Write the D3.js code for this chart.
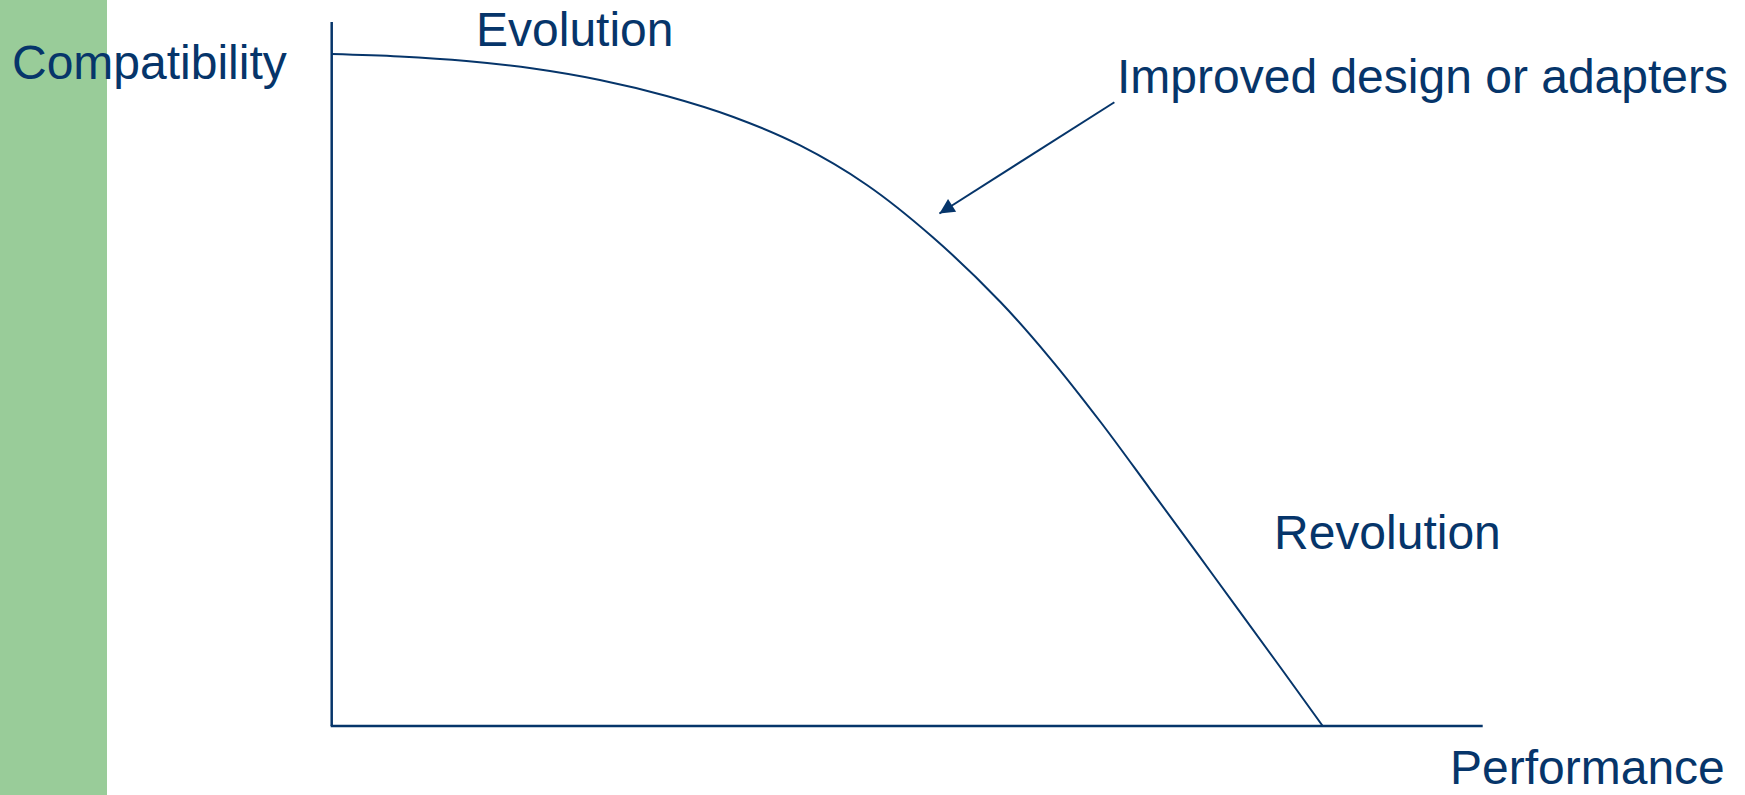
<!DOCTYPE html>
<html>
<head>
<meta charset="utf-8">
<script src="https://cdn.jsdelivr.net/npm/d3@7"></script>
<style>
  html, body { margin: 0; padding: 0; background: #ffffff; }
  svg { display: block; }
  text { font-family: "Liberation Sans", Arial, sans-serif; }
</style>
</head>
<body>
<svg id="chart" width="1745" height="795"></svg>
<script>
// ---- data (domain units: 0..100 on both axes) ----
const performance   = [0, 5.9, 11.7, 17.5, 23.3, 29.1, 34.9, 40.7, 46.5, 52.2, 58.1, 62.4, 66.8, 71.1, 76.6, 82.4, 86.1];
const compatibility = [95.45, 95.1, 94.46, 93.39, 91.76, 89.49, 86.51, 82.46, 76.85, 69.46, 60.23, 52.27, 43.18, 33.66, 21.38, 8.38, 0];
const axisLabels = ["Performance", "Compatibility"];
const annotationTexts = ["Evolution", "Improved design or adapters", "Revolution"];
const arrowFrom = [68.0, 88.6];
const arrowTo   = [52.8, 72.8];

const navy = "#06356a";
const green = "#99cc99";

const svg = d3.select("#chart");

const x = d3.scaleLinear().domain([0, 100]).range([331.7, 1482.7]);
const y = d3.scaleLinear().domain([0, 100]).range([726, 22]);

// green side band
svg.append("rect").attr("x", 0).attr("y", 0).attr("width", 107).attr("height", 795).attr("fill", green);

// axes
svg.append("line")
  .attr("x1", x(0)).attr("x2", x(0)).attr("y1", y(100)).attr("y2", y(0))
  .attr("stroke", navy).attr("stroke-width", 2.5);
svg.append("line")
  .attr("x1", x(0) - 1).attr("x2", x(100)).attr("y1", y(0)).attr("y2", y(0))
  .attr("stroke", navy).attr("stroke-width", 2.7);

// curve
const pts = performance.map((p, i) => [p, compatibility[i]]);
const line = d3.line().x(d => x(d[0])).y(d => y(d[1])).curve(d3.curveCatmullRom.alpha(0.5));
svg.append("path").datum(pts).attr("d", line)
  .attr("fill", "none").attr("stroke", navy).attr("stroke-width", 2);

// arrow
const defs = svg.append("defs");
defs.append("marker").attr("id", "ah")
  .attr("viewBox", "0 0 10 10").attr("refX", 10).attr("refY", 5)
  .attr("markerWidth", 9).attr("markerHeight", 7.5).attr("markerUnits", "strokeWidth")
  .attr("orient", "auto")
  .append("path").attr("d", "M0,0 L10,5 L0,10 Z").attr("fill", navy);
svg.append("line")
  .attr("x1", x(arrowFrom[0])).attr("y1", y(arrowFrom[1]))
  .attr("x2", x(arrowTo[0])).attr("y2", y(arrowTo[1]))
  .attr("stroke", navy).attr("stroke-width", 2)
  .attr("marker-end", "url(#ah)");

// texts
const fs = 48;
function label(t, px, py) {
  svg.append("text").attr("x", px).attr("y", py)
    .attr("font-size", fs).attr("fill", navy).text(t);
}
label(axisLabels[1], 12, 79);
label(axisLabels[0], 1450, 784);
label(annotationTexts[0], 476, 46);
label(annotationTexts[1], 1117, 93);
label(annotationTexts[2], 1274, 549);
</script>
</body>
</html>
